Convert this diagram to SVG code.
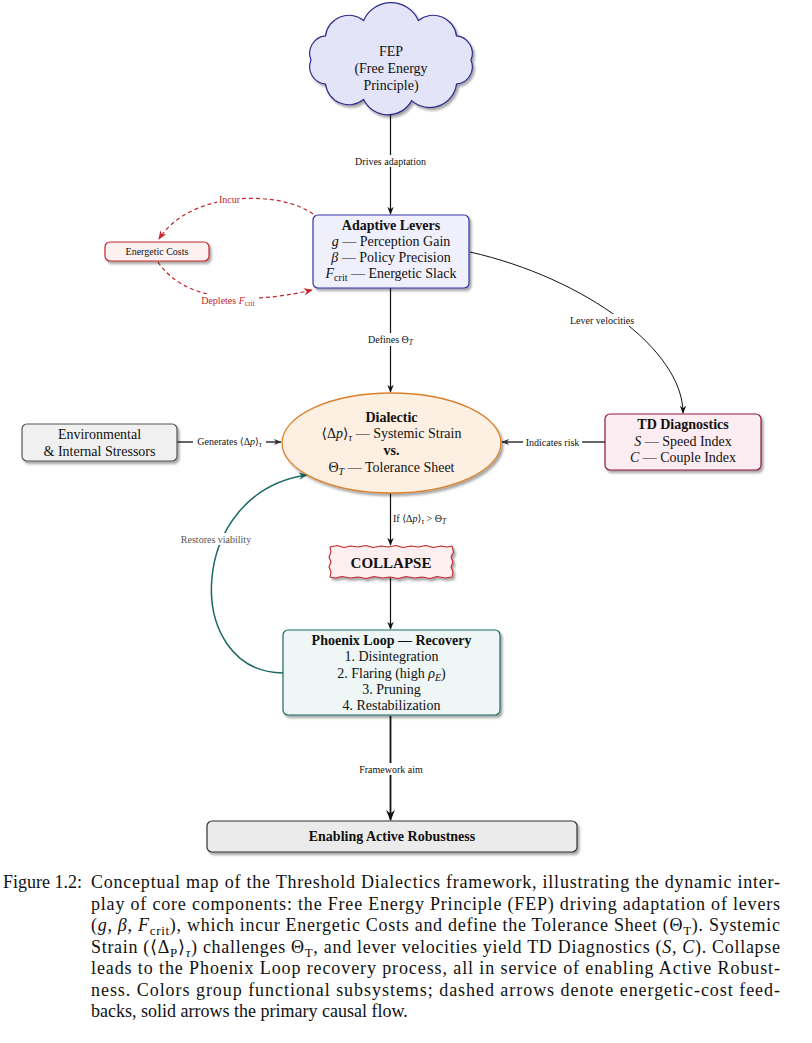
<svg xmlns="http://www.w3.org/2000/svg" width="812" height="1043" viewBox="0 0 812 1043">
<defs>
<filter id="sh" x="-10%" y="-10%" width="130%" height="150%"><feDropShadow dx="2" dy="2.5" stdDeviation="1.2" flood-color="#000" flood-opacity="0.35"/></filter>
<marker id="ak" viewBox="0 0 10 10" refX="9" refY="5" markerWidth="8" markerHeight="8" orient="auto" markerUnits="userSpaceOnUse"><path d="M0,1 L10,5 L0,9 L3,5 z" fill="#111"/></marker>
<marker id="akb" viewBox="0 0 10 10" refX="9" refY="5" markerWidth="11" markerHeight="11" orient="auto" markerUnits="userSpaceOnUse"><path d="M0,1 L10,5 L0,9 L3,5 z" fill="#111"/></marker>
<marker id="ag" viewBox="0 0 10 10" refX="9" refY="5" markerWidth="8" markerHeight="8" orient="auto" markerUnits="userSpaceOnUse"><path d="M0,1 L10,5 L0,9 L3,5 z" fill="#333"/></marker>
<marker id="ar" viewBox="0 0 10 10" refX="9" refY="5" markerWidth="9" markerHeight="9" orient="auto" markerUnits="userSpaceOnUse"><path d="M0,1 L10,5 L0,9 L3,5 z" fill="#c0282d"/></marker>
<marker id="at" viewBox="0 0 10 10" refX="9" refY="5" markerWidth="9" markerHeight="9" orient="auto" markerUnits="userSpaceOnUse"><path d="M0,1 L10,5 L0,9 L3,5 z" fill="#1b6864"/></marker>
</defs>
<style>
text{font-family:"Liberation Serif","DejaVu Serif",serif;fill:#111}
.n{font-size:14px;text-anchor:middle}
.b{font-weight:bold}
.it{font-style:italic}
.lab{font-size:10px;text-anchor:middle}
.sub{font-size:10px;baseline-shift:-3px}
.lsub{font-size:7.5px;baseline-shift:-2px}
.cap{font-size:18px}
.csub{font-size:13px;baseline-shift:-3.5px}
.bg{fill:#fff}
.blk{fill:none;stroke:#111;stroke-width:1.2}
.red{fill:none;stroke:#c0282d;stroke-width:1.2;stroke-dasharray:4 3}
</style>
<rect width="812" height="1043" fill="#fff"/>

<g id="connectors">
<line class="blk" x1="390.5" y1="112" x2="390.5" y2="214" marker-end="url(#ak)"/>
<rect class="bg" x="351" y="155" width="79" height="12"/>
<text class="lab" x="390.5" y="164.5">Drives adaptation</text>

<path class="red" d="M313,214 C280,190 190,190 159,239" marker-end="url(#ar)"/>
<rect class="bg" x="217" y="193" width="25" height="12"/>
<text class="lab" x="229.5" y="202.5" style="fill:#c0282d">Incur</text>

<path class="red" d="M158,262 C190,310 270,300 312,290" marker-end="url(#ar)"/>
<rect class="bg" x="198" y="294" width="61" height="13"/>
<text class="lab" x="228" y="303.5" style="fill:#c0282d">Depletes <tspan class="it" style="fill:#c0282d">F</tspan><tspan class="lsub" style="fill:#c0282d">crit</tspan></text>

<line class="blk" x1="390.5" y1="288" x2="390.5" y2="392" marker-end="url(#ak)"/>
<rect class="bg" x="361" y="333" width="59" height="13"/>
<text class="lab" x="390.5" y="343">Defines Θ<tspan class="lsub it">T</tspan></text>

<path d="M470,252 C585,278 683,350 683,413" fill="none" stroke="#111" stroke-width="1" marker-end="url(#ak)"/>
<rect class="bg" x="567" y="314" width="70" height="12"/>
<text class="lab" x="602" y="323.5">Lever velocities</text>

<line x1="177" y1="442" x2="281" y2="442" stroke="#333" stroke-width="1.3" marker-end="url(#ag)"/>
<rect class="bg" x="193" y="435" width="73" height="14"/>
<text class="lab" x="229.5" y="445">Generates ⟨Δ<tspan class="it">p</tspan>⟩<tspan class="lsub it">τ</tspan></text>

<line x1="605" y1="442" x2="502" y2="442" stroke="#333" stroke-width="1.3" marker-end="url(#ag)"/>
<rect class="bg" x="523" y="436" width="59" height="12"/>
<text class="lab" x="552.5" y="445.5">Indicates risk</text>

<line class="blk" x1="390.5" y1="493" x2="390.5" y2="545" marker-end="url(#ak)"/>
<rect class="bg" x="392" y="512" width="68" height="14"/>
<text class="lab" x="393" y="522" style="text-anchor:start">If ⟨Δ<tspan class="it">p</tspan>⟩<tspan class="lsub it">τ</tspan> &gt; Θ<tspan class="lsub it">T</tspan></text>

<path d="M283,673 C182,672 186,492 307,475" fill="none" stroke="#1b6864" stroke-width="1.5" marker-end="url(#at)"/>
<rect class="bg" x="178" y="533" width="76" height="12"/>
<text class="lab" x="216" y="542.5" style="fill:#555">Restores viability</text>

<line class="blk" x1="390.5" y1="578" x2="390.5" y2="629" marker-end="url(#ak)"/>

<line x1="390.5" y1="716" x2="390.5" y2="820" stroke="#111" stroke-width="1.8" marker-end="url(#akb)"/>
<rect class="bg" x="356" y="763" width="70" height="12"/>
<text class="lab" x="391" y="772.5">Framework aim</text>
</g>

<g id="fep">
<path filter="url(#sh)" fill="#e4e4f8" stroke="#2b2b8c" stroke-width="1.2" d="M311,60 A17.5,17.5 0 0 1 325.5,35.9 A23.5,23.5 0 0 1 363.6,20.5 A30,30 0 0 1 418.4,20.5 A23.5,23.5 0 0 1 456.5,35.9 A17.5,17.5 0 0 1 471,60 A17.5,17.5 0 0 1 456.5,84.1 A27,27 0 0 1 411.7,100.6 A27,27 0 0 1 363.6,99.5 A23.5,23.5 0 0 1 325.5,84.1 A17.5,17.5 0 0 1 311,60 Z"/>
<text class="n" x="391" y="56">FEP</text>
<text class="n" x="391" y="73">(Free Energy</text>
<text class="n" x="391" y="90">Principle)</text>
</g>

<g id="levers">
<rect x="313" y="215" width="156" height="73" rx="5" fill="#f0f0fc" stroke="#3333aa" stroke-width="1.2" filter="url(#sh)"/>
<text class="n b" x="391" y="230">Adaptive Levers</text>
<text class="n" x="391" y="246"><tspan class="it">g</tspan> — Perception Gain</text>
<text class="n" x="391" y="262"><tspan class="it">β</tspan> — Policy Precision</text>
<text class="n" x="391" y="278"><tspan class="it">F</tspan><tspan class="sub">crit</tspan> — Energetic Slack</text>
</g>

<g id="costs">
<rect x="105" y="242" width="104" height="19" rx="5" fill="#fdf0f0" stroke="#c0282d" stroke-width="1.2" filter="url(#sh)"/>
<text class="lab" x="157" y="255">Energetic Costs</text>
</g>

<g id="stressors">
<rect x="22" y="424" width="155" height="37" rx="5" fill="#f0f0f0" stroke="#555" stroke-width="1.2" filter="url(#sh)"/>
<text class="n" x="99.5" y="439">Environmental</text>
<text class="n" x="99.5" y="456">&amp; Internal Stressors</text>
</g>

<g id="dialectic">
<ellipse cx="391.5" cy="443" rx="109.5" ry="50" fill="#fdefe1" stroke="#d9822b" stroke-width="1.3" filter="url(#sh)"/>
<text class="n b" x="391.5" y="422">Dialectic</text>
<text class="n" x="391.5" y="438">⟨Δ<tspan class="it">p</tspan>⟩<tspan class="sub it">τ</tspan> — Systemic Strain</text>
<text class="n b" x="391.5" y="455">vs.</text>
<text class="n" x="391.5" y="472">Θ<tspan class="sub it">T</tspan> — Tolerance Sheet</text>
</g>

<g id="td">
<rect x="605" y="414" width="156" height="56" rx="5" fill="#fcedf2" stroke="#8b1a3a" stroke-width="1.2" filter="url(#sh)"/>
<text class="n b" x="683" y="429">TD Diagnostics</text>
<text class="n" x="683" y="445.5"><tspan class="it">S</tspan> — Speed Index</text>
<text class="n" x="683" y="462"><tspan class="it">C</tspan> — Couple Index</text>
</g>

<g id="collapse">
<path filter="url(#sh)" fill="#fdeef0" stroke="#c0282d" stroke-width="1.1" stroke-linejoin="round" d="M330,547 L337,545.5 L344,547.5 L351,546 L358,547 L366,545.5 L373,547.5 L381,546 L388,547 L396,545.5 L403,547.5 L411,546 L418,547 L426,545.5 L433,547.5 L441,546 L447,547 L452,546 L453.5,552 L451,557 L453,562 L451,567 L453,572 L452,577 L445,578 L437,576.5 L430,578.5 L422,577 L414,578 L406,576.5 L398,578.5 L390,577 L382,578 L374,576.5 L366,578.5 L358,577 L350,578 L342,576.5 L335,578 L330,577 L331,572 L329,567 L331,562 L329,557 L331,552 Z"/>
<text class="b" x="391" y="567.5" style="font-size:15px;text-anchor:middle">COLLAPSE</text>
</g>

<g id="phoenix">
<rect x="283" y="630" width="217" height="85" rx="5" fill="#eef7f5" stroke="#1b6864" stroke-width="1.2" filter="url(#sh)"/>
<text class="n b" x="391.5" y="645">Phoenix Loop — Recovery</text>
<text class="n" x="391.5" y="661">1. Disintegration</text>
<text class="n" x="391.5" y="678">2. Flaring (high <tspan class="it">ρ</tspan><tspan class="sub it">E</tspan>)</text>
<text class="n" x="391.5" y="694">3. Pruning</text>
<text class="n" x="391.5" y="710">4. Restabilization</text>
</g>

<g id="robustness">
<rect x="207" y="821" width="370" height="31" rx="5" fill="#ebebeb" stroke="#333" stroke-width="1.2" filter="url(#sh)"/>
<text class="b" x="392" y="841" style="font-size:14px;text-anchor:middle">Enabling Active Robustness</text>
</g>

<g id="caption">
<text class="cap" x="3" y="888">Figure 1.2:</text>
<text class="cap" x="91" y="888" textLength="689" lengthAdjust="spacing">Conceptual map of the Threshold Dialectics framework, illustrating the dynamic inter-</text>
<text class="cap" x="91" y="909.5" textLength="689" lengthAdjust="spacing">play of core components: the Free Energy Principle (FEP) driving adaptation of levers</text>
<text class="cap" x="91" y="931" textLength="689" lengthAdjust="spacing">(<tspan class="it">g</tspan>, <tspan class="it">β</tspan>, <tspan class="it">F</tspan><tspan class="csub">crit</tspan>), which incur Energetic Costs and define the Tolerance Sheet (Θ<tspan class="csub">T</tspan>). Systemic</text>
<text class="cap" x="91" y="952.5" textLength="689" lengthAdjust="spacing">Strain (⟨Δ<tspan class="csub">P</tspan>⟩<tspan class="csub it">τ</tspan>) challenges Θ<tspan class="csub">T</tspan>, and lever velocities yield TD Diagnostics (<tspan class="it">S</tspan>, <tspan class="it">C</tspan>). Collapse</text>
<text class="cap" x="91" y="974" textLength="689" lengthAdjust="spacing">leads to the Phoenix Loop recovery process, all in service of enabling Active Robust-</text>
<text class="cap" x="91" y="995.5" textLength="689" lengthAdjust="spacing">ness. Colors group functional subsystems; dashed arrows denote energetic-cost feed-</text>
<text class="cap" x="91" y="1017">backs, solid arrows the primary causal flow.</text>
</g>
</svg>
